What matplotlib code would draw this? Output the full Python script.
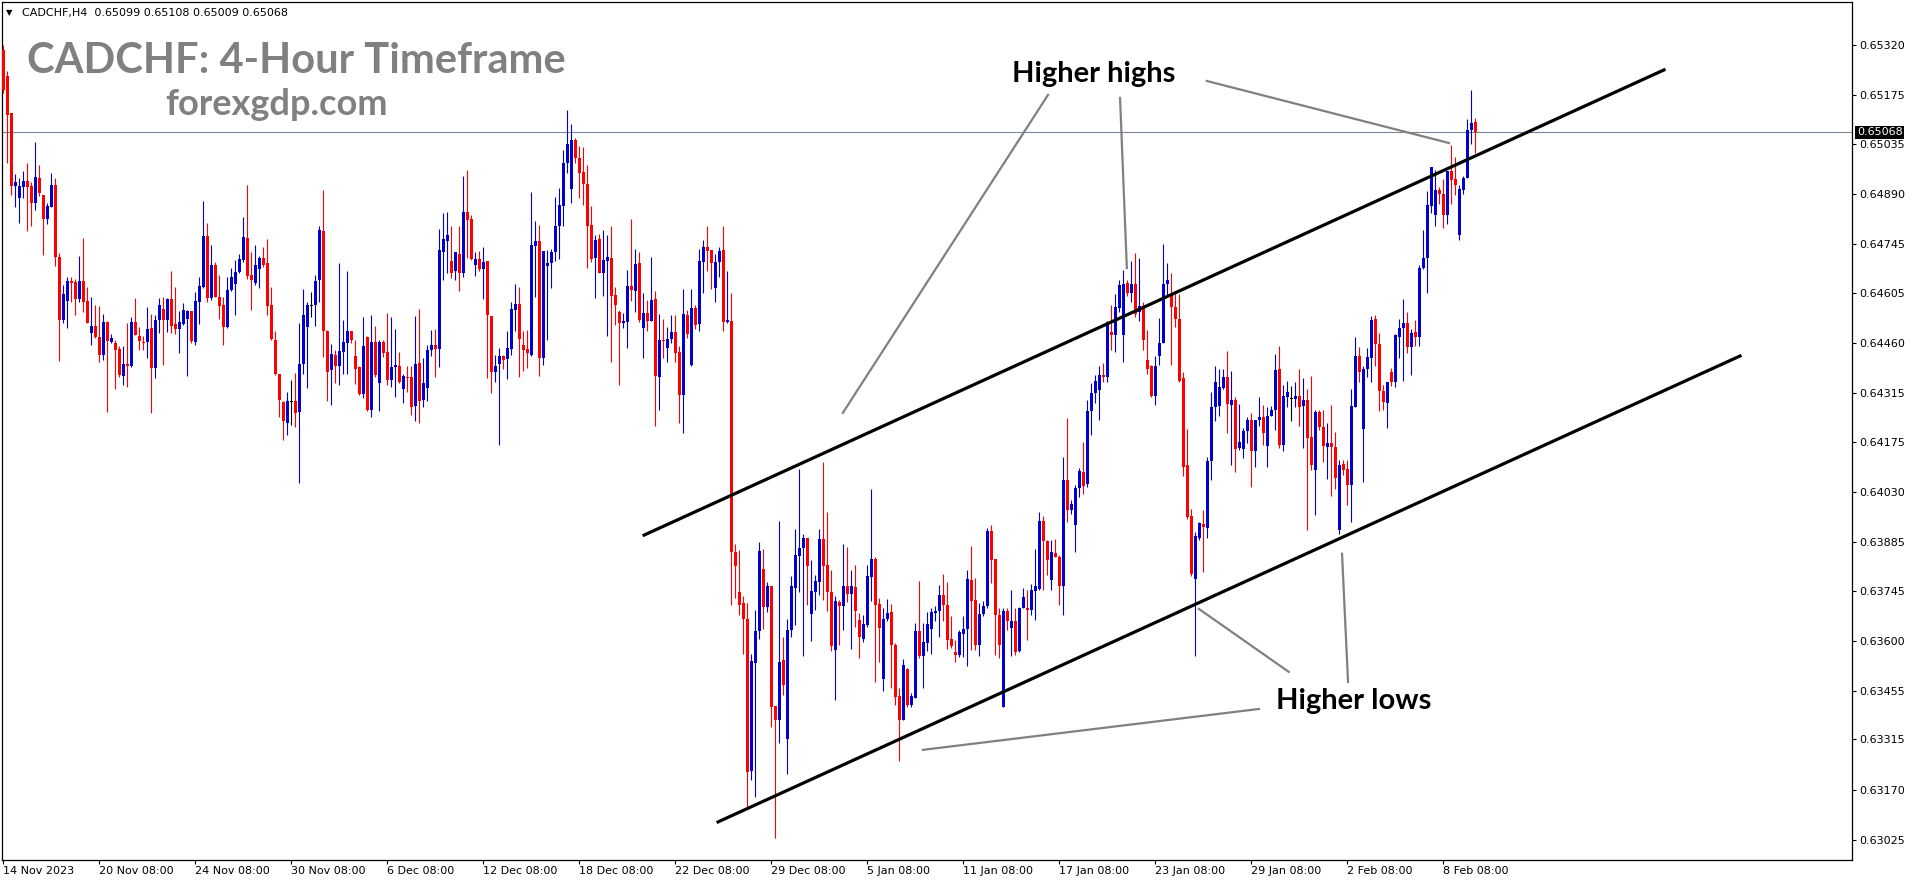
import numpy as np
import matplotlib
matplotlib.use("Agg")
import matplotlib.pyplot as plt
from matplotlib.transforms import blended_transform_factory

# CADCHF H4 candles (oldest first)
opens = [
    .65305, .65230, .65124, .64913, .64879, .64909, .64927, .64914, .64865, .64936,
    .64887, .64818, .64853, .64916, .64707, .64526, .64582, .64639, .64637, .64588,
    .64639, .64581, .64489, .64509, .64478, .64425, .64519, .64461, .64459, .64442,
    .64365, .64399, .64393, .64519, .64480, .64465, .64461, .64502, .64387, .64526,
    .64559, .64526, .64588, .64515, .64500, .64515, .64530, .64552, .64462, .64579,
    .64622, .64768, .64590, .64685, .64593, .64569, .64505, .64613, .64629, .64665,
    .64699, .64763, .64656, .64632, .64673, .64706, .64690, .64569, .64469, .64370,
    .64289, .64230, .64292, .64293, .64259, .64399, .64507, .64568, .64569, .64640,
    .64784, .64495, .64382, .64425, .64393, .64435, .64459, .64493, .64423, .64389,
    .64313, .64478, .64266, .64462, .64345, .64462, .64433, .64353, .64389, .64393,
    .64326, .64363, .64360, .64278, .64401, .64295, .64331, .64440, .64454, .64443,
    .64723, .64755, .64696, .64666, .64717, .64661, .64837, .64818, .64685, .64702,
    .64673, .64695, .64538, .64377, .64399, .64422, .64414, .64443, .64555, .64571,
    .64454, .64443, .64425, .64741, .64754, .64417, .64683, .64690, .64721, .64796,
    .64856, .64978, .64903, .65046, .64993, .64954, .64919, .64800, .64706, .64760,
    .64663, .64697, .64706, .64598, .64550, .64517, .64521, .64624, .64611, .64690,
    .64502, .64547, .64524, .64587, .64361, .64469, .64446, .64470, .64490, .64435,
    .64308, .64541, .64396, .64560, .64515, .64693, .64736, .64728, .64619, .64692,
    .64728, .64521, .64524, .63856, .63740, .63709, .63663, .63223, .63537, .63627,
    .63808, .63696, .63757, .63413, .63372, .63543, .63317, .63632, .63752, .63846,
    .63869, .63898, .63678, .63742, .63769, .63893, .63819, .63742, .63572, .63712,
    .63699, .63757, .63736, .63754, .63661, .63606, .63646, .63783, .63837, .63707,
    .63490, .63663, .63682, .63588, .63441, .63370, .63518, .63415, .63436, .63629,
    .63557, .63593, .63635, .63680, .63685, .63731, .63704, .63606, .63567, .63558,
    .63620, .63634, .63776, .63718, .63589, .63678, .63699, .63918, .63837, .63675,
    .63410, .63685, .63637, .63658, .63569, .63694, .63694, .63688, .63745, .63750,
    .63946, .63889, .63774, .63853, .63843, .63757, .64065, .63976, .63935, .64041,
    .64087, .64052, .64262, .64315, .64324, .64368, .64360, .64491, .64483, .64562,
    .64483, .64632, .64605, .64630, .64550, .64560, .64411, .64392, .64307, .64421,
    .64459, .64629, .64601, .64563, .64528, .64358, .64106, .63959, .63779, .63896,
    .63938, .63925, .64120, .64276, .64278, .64329, .64361, .64281, .64296, .64156,
    .64154, .64206, .64238, .64149, .64236, .64246, .64161, .64250, .64265, .64384,
    .64164, .64305, .64298, .64298, .64307, .64279, .64296, .64188, .64092, .64259,
    .64217, .64158, .64170, .64159, .63920, .64110, .64096, .64050, .64274, .64421,
    .64212, .64385, .64416, .64529, .64457, .64322, .64286, .64375, .64348, .64478,
    .64502, .64517, .64447, .64491, .64478, .64676, .64704, .64854, .64830, .64902,
    .64890, .64828, .64956, .64933, .64770, .64902, .64935, .65075, .65099,
]
highs = [
    .65320, .65246, .65124, .64947, .64935, .64956, .64978, .64925, .65040, .64973,
    .64887, .64863, .64949, .64935, .64718, .64627, .64651, .64651, .64643, .64711,
    .64762, .64622, .64593, .64569, .64566, .64542, .64523, .64486, .64468, .64452,
    .64451, .64516, .64536, .64589, .64507, .64480, .64564, .64542, .64540, .64589,
    .64593, .64589, .64666, .64622, .64552, .64574, .64555, .64552, .64608, .64651,
    .64869, .64807, .64742, .64694, .64656, .64593, .64651, .64675, .64699, .64717,
    .64824, .64916, .64723, .64743, .64712, .64738, .64759, .64622, .64493, .64370,
    .64291, .64319, .64353, .64372, .64517, .64616, .64578, .64608, .64656, .64796,
    .64901, .64497, .64457, .64440, .64690, .64526, .64666, .64495, .64469, .64392,
    .64536, .64480, .64541, .64509, .64469, .64467, .64547, .64536, .64500, .64435,
    .64370, .64393, .64393, .64538, .64558, .64416, .64454, .64497, .64499, .64788,
    .64836, .64839, .64796, .64723, .64798, .64942, .64959, .64829, .64723, .64725,
    .64738, .64695, .64538, .64425, .64444, .64425, .64494, .64578, .64630, .64621,
    .64495, .64497, .64896, .64812, .64800, .64725, .64728, .64731, .64882, .64908,
    .65017, .65132, .65092, .65050, .65028, .65026, .64974, .64855, .64772, .64774,
    .64786, .64772, .64798, .64622, .64555, .64547, .64671, .64818, .64731, .64722,
    .64603, .64584, .64709, .64611, .64544, .64529, .64507, .64541, .64541, .64451,
    .64616, .64555, .64616, .64570, .64731, .64757, .64796, .64728, .64717, .64738,
    .64798, .64666, .64605, .63880, .63863, .63728, .63709, .63562, .63689, .63885,
    .63865, .63769, .63757, .63413, .63947, .63612, .63663, .63786, .63922, .64095,
    .63908, .63898, .63832, .63790, .63923, .64115, .63973, .63805, .63728, .63718,
    .63880, .63872, .63805, .63819, .63680, .63675, .63819, .64039, .63843, .63723,
    .63694, .63720, .63706, .63593, .63463, .63547, .63521, .63449, .63651, .63773,
    .63651, .63683, .63694, .63699, .63760, .63793, .63771, .63672, .63601, .63632,
    .63670, .63805, .63874, .63781, .63709, .63714, .63925, .63935, .63837, .63694,
    .63694, .63694, .63747, .63694, .63697, .63752, .63747, .63764, .63865, .63971,
    .63961, .63891, .63891, .63893, .63848, .64130, .64243, .64007, .64050, .64098,
    .64175, .64296, .64344, .64368, .64394, .64401, .64522, .64570, .64601, .64642,
    .64669, .64642, .64697, .64719, .64706, .64579, .64498, .64397, .64421, .64531,
    .64746, .64690, .64663, .64601, .64601, .64377, .64212, .63980, .63914, .63944,
    .63978, .64130, .64317, .64392, .64385, .64385, .64437, .64379, .64305, .64284,
    .64214, .64245, .64257, .64236, .64303, .64281, .64276, .64278, .64428, .64451,
    .64339, .64351, .64336, .64348, .64385, .64358, .64326, .64363, .64265, .64265,
    .64267, .64230, .64281, .64204, .64121, .64121, .64122, .64327, .64478, .64447,
    .64392, .64445, .64538, .64541, .64488, .64339, .64347, .64387, .64485, .64529,
    .64586, .64549, .64500, .64526, .64685, .64786, .64899, .64969, .64959, .64911,
    .64933, .64957, .65032, .64996, .64916, .64942, .65106, .65190, .65108,
]
lows = [
    .65180, .64978, .64887, .64853, .64805, .64879, .64783, .64798, .64844, .64885,
    .64714, .64802, .64853, .64683, .64409, .64518, .64502, .64579, .64539, .64579,
    .64549, .64516, .64454, .64473, .64406, .64411, .64261, .64459, .64326, .64362,
    .64338, .64332, .64391, .64483, .64440, .64438, .64415, .64257, .64358, .64489,
    .64396, .64492, .64488, .64486, .64432, .64512, .64365, .64459, .64454, .64514,
    .64617, .64579, .64584, .64593, .64528, .64454, .64502, .64611, .64540, .64663,
    .64694, .64645, .64555, .64627, .64617, .64680, .64541, .64469, .64367, .64247,
    .64180, .64194, .64223, .64218, .64055, .64370, .64331, .64536, .64510, .64579,
    .64420, .64291, .64281, .64343, .64339, .64370, .64370, .64459, .64342, .64310,
    .64300, .64262, .64247, .64361, .64262, .64420, .64339, .64332, .64303, .64343,
    .64286, .64319, .64252, .64235, .64230, .64276, .64291, .64423, .64361, .64390,
    .64640, .64663, .64646, .64642, .64610, .64651, .64704, .64699, .64653, .64666,
    .64586, .64358, .64315, .64348, .64165, .64384, .64357, .64425, .64494, .64361,
    .64379, .64388, .64422, .64592, .64363, .64396, .64467, .64619, .64695, .64701,
    .64798, .64949, .64865, .64978, .64877, .64858, .64675, .64692, .64589, .64663,
    .64594, .64481, .64406, .64512, .64337, .64502, .64446, .64582, .64550, .64519,
    .64416, .64495, .64524, .64221, .64265, .64416, .64406, .64459, .64406, .64230,
    .64199, .64473, .64393, .64499, .64495, .64605, .64668, .64616, .64579, .64651,
    .64493, .64517, .63704, .63723, .63675, .63562, .63117, .63197, .63148, .63606,
    .63635, .63682, .63350, .63030, .63306, .63444, .63216, .63612, .63644, .63742,
    .63557, .63704, .63600, .63689, .63731, .63718, .63685, .63571, .63430, .63588,
    .63632, .63713, .63577, .63639, .63550, .63596, .63641, .63716, .63480, .63540,
    .63456, .63656, .63463, .63415, .63252, .63370, .63410, .63408, .63436, .63550,
    .63463, .63569, .63561, .63656, .63612, .63656, .63576, .63579, .63540, .63553,
    .63553, .63526, .63574, .63574, .63555, .63670, .63694, .63766, .63559, .63550,
    .63409, .63632, .63555, .63560, .63567, .63694, .63603, .63675, .63661, .63747,
    .63747, .63791, .63747, .63841, .63704, .63675, .63944, .63967, .63855, .64015,
    .64024, .64045, .64194, .64286, .64236, .64347, .64347, .64440, .64435, .64550,
    .64406, .64594, .64579, .64536, .64524, .64438, .64371, .64303, .64281, .64397,
    .64459, .64599, .64397, .64507, .64347, .64076, .63952, .63788, .63555, .63892,
    .63797, .63896, .64065, .64235, .64248, .64326, .64199, .64108, .64086, .64151,
    .64127, .64170, .64044, .64101, .64221, .64166, .64103, .64250, .64207, .64156,
    .64149, .64276, .64233, .64276, .64219, .64156, .63919, .64094, .63964, .64209,
    .64115, .64067, .64017, .64038, .63908, .64079, .63993, .63942, .64274, .64348,
    .64057, .64361, .64346, .64394, .64262, .64267, .64214, .64334, .64332, .64416,
    .64351, .64430, .64368, .64451, .64451, .64673, .64605, .64836, .64798, .64861,
    .64791, .64804, .64861, .64887, .64757, .64890, .64935, .65034, .65009,
]
closes = [
    .65190, .65118, .64913, .64925, .64913, .64927, .64911, .64865, .64939, .64892,
    .64818, .64855, .64916, .64709, .64526, .64601, .64639, .64632, .64588, .64639,
    .64579, .64518, .64509, .64478, .64425, .64519, .64464, .64473, .64438, .64367,
    .64399, .64393, .64519, .64483, .64466, .64462, .64500, .64388, .64526, .64568,
    .64526, .64587, .64510, .64500, .64520, .64555, .64553, .64464, .64581, .64624,
    .64768, .64590, .64685, .64593, .64567, .64505, .64613, .64649, .64665, .64701,
    .64765, .64653, .64640, .64685, .64706, .64685, .64567, .64470, .64370, .64295,
    .64233, .64291, .64292, .64257, .64399, .64541, .64569, .64568, .64639, .64786,
    .64493, .64377, .64428, .64393, .64437, .64461, .64493, .64467, .64385, .64313,
    .64451, .64266, .64462, .64367, .64462, .64430, .64353, .64390, .64396, .64347,
    .64363, .64361, .64276, .64399, .64293, .64343, .64440, .64454, .64443, .64728,
    .64760, .64770, .64663, .64721, .64663, .64837, .64815, .64702, .64702, .64673,
    .64693, .64541, .64377, .64393, .64422, .64411, .64444, .64558, .64571, .64472,
    .64440, .64430, .64743, .64754, .64417, .64725, .64690, .64722, .64798, .64858,
    .64980, .65034, .65046, .64993, .64951, .64918, .64798, .64702, .64757, .64663,
    .64699, .64709, .64596, .64568, .64517, .64524, .64624, .64613, .64688, .64526,
    .64547, .64524, .64584, .64363, .64469, .64464, .64470, .64490, .64432, .64308,
    .64544, .64486, .64560, .64512, .64695, .64736, .64725, .64690, .64693, .64725,
    .64521, .64526, .63855, .63816, .63704, .63663, .63221, .63542, .63629, .63860,
    .63696, .63757, .63408, .63372, .63540, .63473, .63632, .63757, .63848, .63869,
    .63898, .63816, .63745, .63773, .63894, .63816, .63742, .63584, .63715, .63699,
    .63757, .63736, .63757, .63686, .63610, .63649, .63786, .63837, .63702, .63638,
    .63663, .63680, .63588, .63439, .63370, .63531, .63415, .63441, .63629, .63557,
    .63595, .63649, .63682, .63686, .63731, .63704, .63603, .63586, .63558, .63624,
    .63635, .63778, .63716, .63589, .63678, .63701, .63918, .63834, .63673, .63587,
    .63687, .63656, .63656, .63567, .63694, .63726, .63688, .63747, .63757, .63946,
    .63887, .63834, .63855, .63843, .63757, .64065, .63976, .63995, .64041, .64091,
    .64048, .64264, .64315, .64350, .64368, .64360, .64519, .64483, .64563, .64627,
    .64630, .64605, .64630, .64544, .64565, .64467, .64385, .64307, .64392, .64459,
    .64630, .64642, .64563, .64528, .64351, .64103, .63956, .63793, .63901, .63940,
    .63928, .64120, .64276, .64346, .64332, .64361, .64284, .64296, .64154, .64175,
    .64206, .64238, .64149, .64236, .64246, .64201, .64250, .64267, .64382, .64164,
    .64307, .64317, .64298, .64307, .64276, .64294, .64185, .64108, .64259, .64216,
    .64161, .64170, .64159, .64070, .64108, .64094, .64050, .64278, .64421, .64377,
    .64385, .64418, .64526, .64456, .64320, .64289, .64347, .64347, .64483, .64502,
    .64517, .64447, .64488, .64478, .64676, .64706, .64858, .64967, .64902, .64890,
    .64828, .64955, .64931, .64916, .64905, .64935, .65075, .65096, .65068,
]

# time axis labels (every 24 bars)
date_labels = ["14 Nov 2023", "20 Nov 08:00", "24 Nov 08:00", "30 Nov 08:00",
               "6 Dec 08:00", "12 Dec 08:00", "18 Dec 08:00", "22 Dec 08:00",
               "29 Dec 08:00", "5 Jan 08:00", "11 Jan 08:00", "17 Jan 08:00",
               "23 Jan 08:00", "29 Jan 08:00", "2 Feb 08:00", "8 Feb 08:00"]
date_bars = [0, 24, 48, 72, 96, 120, 144, 168, 192, 216, 240, 264, 288, 312, 336, 360]
price_ticks = [0.63025, 0.63170, 0.63315, 0.63455, 0.63600, 0.63745, 0.63885,
               0.64030, 0.64175, 0.64315, 0.64460, 0.64605, 0.64745, 0.64890,
               0.65035, 0.65175, 0.65320]
last_price = 0.65068

# channel lines (bar index, price)
upper_x = [160.2, 415.2]
upper_y = [0.63905, 0.65248]
lower_x = [178.7, 434.2]
lower_y = [0.63077, 0.64422]

# grey pointer lines
hh_x = [[261.2, 209.9], [279.2, 280.9], [300.9, 361.4]]
hh_y = [[0.65176, 0.64258], [0.65167, 0.64676], [0.65216, 0.65037]]
hl_x = [[321.4, 298.9], [336.2, 334.7], [313.9, 229.9]]
hl_y = [[0.63510, 0.63692], [0.63481, 0.63851], [0.63403, 0.63285]]

W, H = 1916, 884
fig = plt.figure(figsize=(W / 100, H / 100), dpi=100)
ax = fig.add_axes([2 / W, 24 / H, 1850 / W, 858 / H])

o = np.array(opens)
hi = np.array(highs)
lo = np.array(lows)
c = np.array(closes)
x = np.arange(len(c))

colors = np.where(c > o, "#0000d0", np.where(c < o, "#ff0000", "#000000"))
body = np.maximum(np.abs(c - o), 0.00003)
bottom = np.minimum(o, c) - np.where(np.abs(c - o) < 0.00003, 0.000015, 0)

ax.vlines(x, lo, hi, colors=colors, linewidth=0.8, zorder=2)
ax.bar(x, body, bottom=bottom, width=0.75, color=colors, linewidth=0, zorder=3)

ax.axhline(last_price, color="#778899", linewidth=0.8, zorder=1)

ax.plot(upper_x, upper_y, color="black", linewidth=2.3, zorder=4)
ax.plot(lower_x, lower_y, color="black", linewidth=2.3, zorder=4)
for xs, ys in zip(hh_x + hl_x, hh_y + hl_y):
    ax.plot(xs, ys, color="#808080", linewidth=1.6, zorder=4)

ax.text(272.7, 0.65235, "Higher highs", fontsize=21, fontweight="bold",
        family="Lato", ha="center", va="center", zorder=5)
ax.text(337.7, 0.63426, "Higher lows", fontsize=21, fontweight="bold",
        family="Lato", ha="center", va="center", zorder=5)

ax.set_xlim(-0.33, 462.2)
ax.set_ylim(0.62967, 0.65444)

ax.yaxis.tick_right()
ax.set_yticks(price_ticks)
ax.set_yticklabels([f"{p:.5f}" for p in price_ticks])
ax.set_xticks(date_bars)
ax.set_xticklabels(date_labels)
for lbl in ax.get_xticklabels():
    lbl.set_horizontalalignment("left")
ax.tick_params(axis="both", labelsize=8, length=3, width=0.8, color="black")
ax.tick_params(axis="y", pad=2)
ax.tick_params(axis="x", pad=1.5)
for sp in ax.spines.values():
    sp.set_linewidth(0.9)

# last price tag on the price scale
tr = blended_transform_factory(ax.transAxes, ax.transData)
ax.text(1.0 + 5 / 1850, last_price, f"{last_price:.5f}", transform=tr,
        fontsize=8, color="white", va="center", ha="left", zorder=6,
        bbox=dict(facecolor="black", edgecolor="none", pad=1.2), clip_on=False)

# header and watermark titles
fig.text(6 / W, 1 - 13 / H, "\u25bc", fontsize=6, va="center")
fig.text(22 / W, 1 - 13 / H, "CADCHF,H4  0.65099 0.65108 0.65009 0.65068",
         fontsize=8, va="center")
fig.text(27 / W, 1 - 73 / H, "CADCHF: 4-Hour Timeframe", fontsize=30,
         fontweight="bold", family="Lato", color="#808080", va="baseline")
fig.text(165 / W, 1 - 115 / H, "forexgdp.com", fontsize=26,
         fontweight="bold", family="Lato", color="#808080", va="baseline")

fig.savefig("out.png", dpi=100)
